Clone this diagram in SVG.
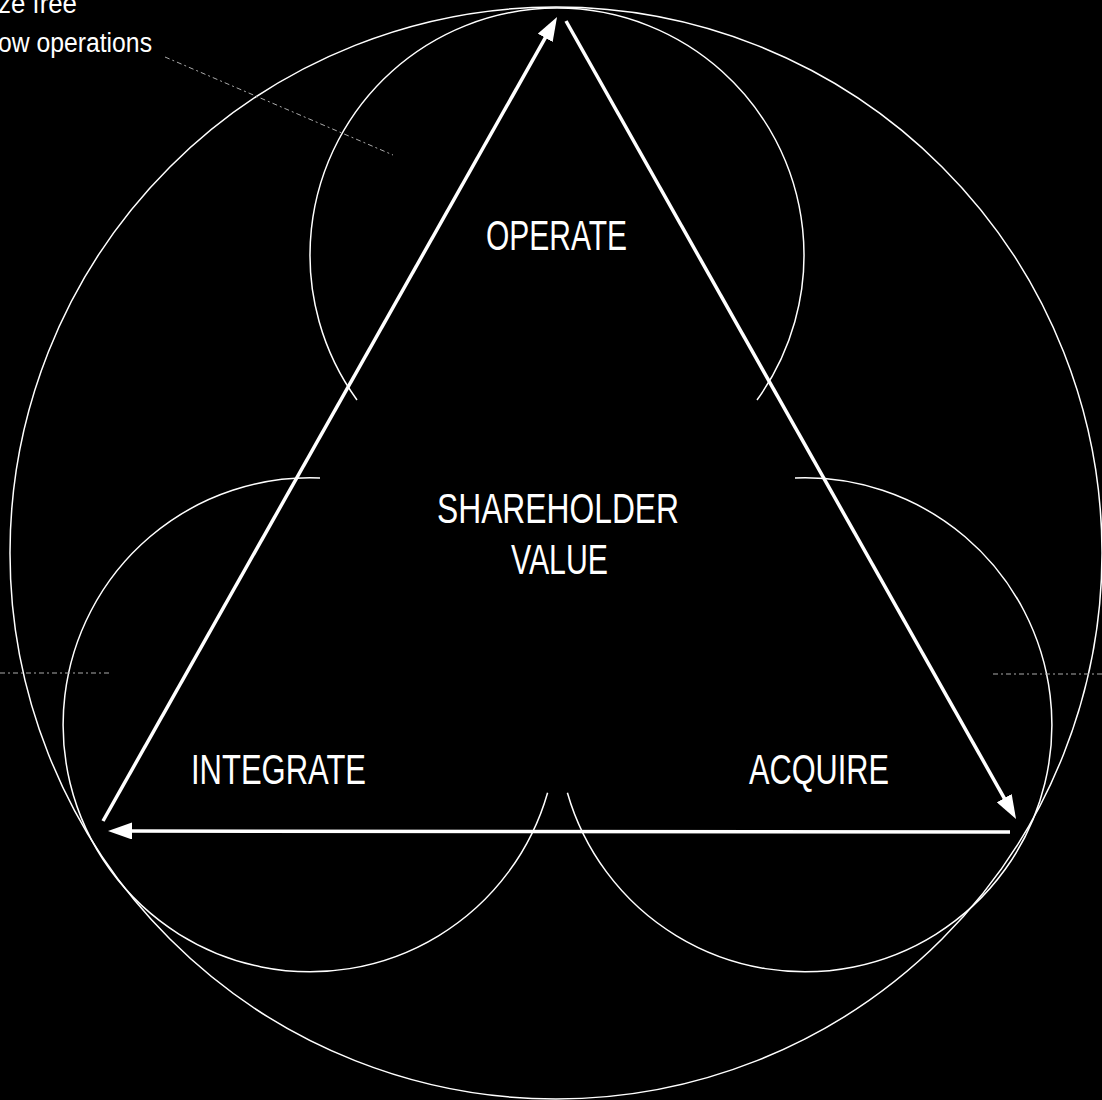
<svg xmlns="http://www.w3.org/2000/svg" width="1102" height="1100" viewBox="0 0 1102 1100">
<defs>
<style>
.bg{fill:#000}
.circ{fill:none;stroke:#fff;stroke-width:1.5}
.edge{fill:none;stroke:#fff;stroke-width:3.5}
.lbl{fill:#fff;font-family:"Liberation Sans",Arial,sans-serif;font-size:43px;text-anchor:start}
.note{fill:#fff;font-family:"Liberation Sans",Arial,sans-serif;font-size:27px}
.dash{fill:none;stroke:#aaa;stroke-width:1;stroke-dasharray:5 3 2 3}
</style>
<marker id="ah" markerUnits="userSpaceOnUse" markerWidth="24" markerHeight="17" refX="4" refY="8.5" orient="auto" viewBox="0 0 24 17">
<path d="M0,0 L24,8.5 L0,17 Z" fill="#fff"/>
</marker>
</defs>
<rect class="bg" x="0" y="0" width="1102" height="1100"/>
<g id="outer">
<circle class="circ" cx="556" cy="553" r="546"/>
</g>
<g id="operate">
<path class="circ" d="M357,400 A247,247 0 1 1 757,400"/>
<text class="lbl" x="486" y="250" textLength="141" lengthAdjust="spacingAndGlyphs">OPERATE</text>
</g>
<g id="integrate">
<path class="circ" d="M320,478 A247,247 0 1 0 547.6,792.7"/>
<text class="lbl" x="191" y="784" textLength="175" lengthAdjust="spacingAndGlyphs">INTEGRATE</text>
</g>
<g id="acquire">
<path class="circ" d="M795,478 A247,247 0 1 1 567.4,792.7"/>
<text class="lbl" x="749" y="784" textLength="140" lengthAdjust="spacingAndGlyphs">ACQUIRE</text>
</g>
<g id="value">
<text class="lbl" x="437" y="523" textLength="242" lengthAdjust="spacingAndGlyphs">SHAREHOLDER</text>
<text class="lbl" x="511" y="574" textLength="97" lengthAdjust="spacingAndGlyphs">VALUE</text>
</g>
<g id="note">
<text class="note" x="-2" y="13" textLength="79" lengthAdjust="spacingAndGlyphs">ze free</text>
<text class="note" x="-2" y="52" textLength="154" lengthAdjust="spacingAndGlyphs">ow operations</text>
</g>
<g id="connectors">
<line class="edge" x1="103" y1="821" x2="547.2" y2="34.4" marker-end="url(#ah)"/>
<line class="edge" x1="566" y1="21" x2="1006.2" y2="801.6" marker-end="url(#ah)"/>
<line class="edge" x1="1010" y1="832" x2="128" y2="831" marker-end="url(#ah)"/>
<line class="dash" x1="165" y1="57" x2="393" y2="155"/>
<line class="dash" x1="0" y1="673" x2="110" y2="673"/>
<line class="dash" x1="993" y1="674" x2="1102" y2="674"/>
</g>
</svg>
